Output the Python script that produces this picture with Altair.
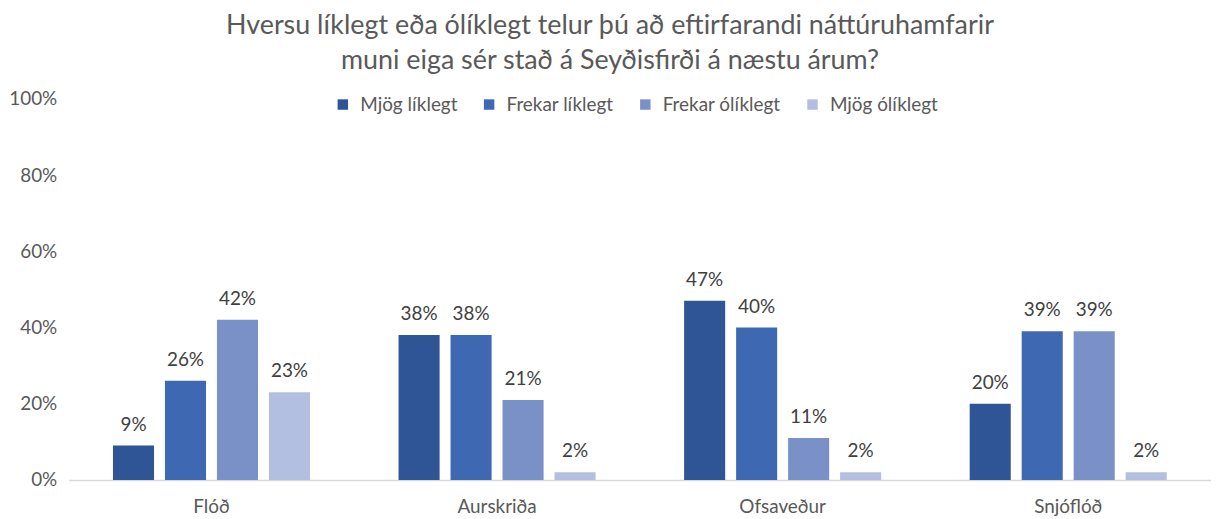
import altair as alt
import pandas as pd

categories = ["Flóð", "Aurskriða", "Ofsaveður", "Snjóflóð"]
series = ["Mjög líklegt", "Frekar líklegt", "Frekar ólíklegt", "Mjög ólíklegt"]
values = {
    "Mjög líklegt":   [0.09, 0.38, 0.47, 0.20],
    "Frekar líklegt": [0.26, 0.38, 0.40, 0.39],
    "Frekar ólíklegt": [0.42, 0.21, 0.11, 0.39],
    "Mjög ólíklegt":  [0.23, 0.02, 0.02, 0.02],
}
colors = ["#2F5597", "#3F68B3", "#7A91C8", "#B3BFE0"]
y_ticks = [0, 0.2, 0.4, 0.6, 0.8, 1.0]
title_lines = ["Hversu líklegt eða ólíklegt telur þú að eftirfarandi náttúruhamfarir",
               "muni eiga sér stað á Seyðisfirði á næstu árum?"]

rows = []
for s in series:
    for c, v in zip(categories, values[s]):
        rows.append({"flokkur": c, "svar": s, "hlutfall": v})
df = pd.DataFrame(rows)

FONT = "Lato"
FS = 19

base = alt.Chart(df).encode(
    x=alt.X("flokkur:N", sort=categories,
            scale=alt.Scale(paddingInner=0.31, paddingOuter=0.155),
            axis=alt.Axis(title=None, labelAngle=0, ticks=False, domainColor="#D9D9D9",
                          domainWidth=1.5, labelFontSize=FS, labelColor="#595959",
                          labelPadding=18, labelFont=FONT)),
    xOffset=alt.XOffset("svar:N", sort=series, scale=alt.Scale(paddingInner=0.21)),
    y=alt.Y("hlutfall:Q", scale=alt.Scale(domain=[0, 1]),
            axis=alt.Axis(title=None, values=y_ticks, format=".0%", grid=False, ticks=False,
                          domain=False, labelFontSize=FS, labelColor="#595959",
                          labelPadding=12, labelFont=FONT)),
)

bars = base.mark_bar().encode(
    color=alt.Color("svar:N", sort=series,
                    scale=alt.Scale(domain=series, range=colors),
                    legend=alt.Legend(title=None, orient="none", direction="horizontal",
                                      legendX=266, legendY=-4, symbolType="square",
                                      symbolSize=110, symbolStrokeWidth=0,
                                      labelFontSize=FS, labelColor="#595959",
                                      labelFont=FONT, columnPadding=22, labelOffset=8)),
)

labels = base.mark_text(baseline="bottom", dy=-11, fontSize=FS, color="#404040",
                        font=FONT).encode(text=alt.Text("hlutfall:Q", format=".0%"))

chart = (bars + labels).properties(
    width=1148, height=383,
    padding={"left": 61, "top": 90, "right": 0, "bottom": 38},
    autosize=alt.AutoSizeParams(type="none"),
    title=alt.TitleParams(title_lines, anchor="middle", fontSize=27, font=FONT,
                          fontWeight="normal", color="#595959", offset=15, dx=-30,
                          lineHeight=35),
).configure_view(stroke=None)

chart.save("out.html", embed_options={"renderer": "svg", "actions": False})
